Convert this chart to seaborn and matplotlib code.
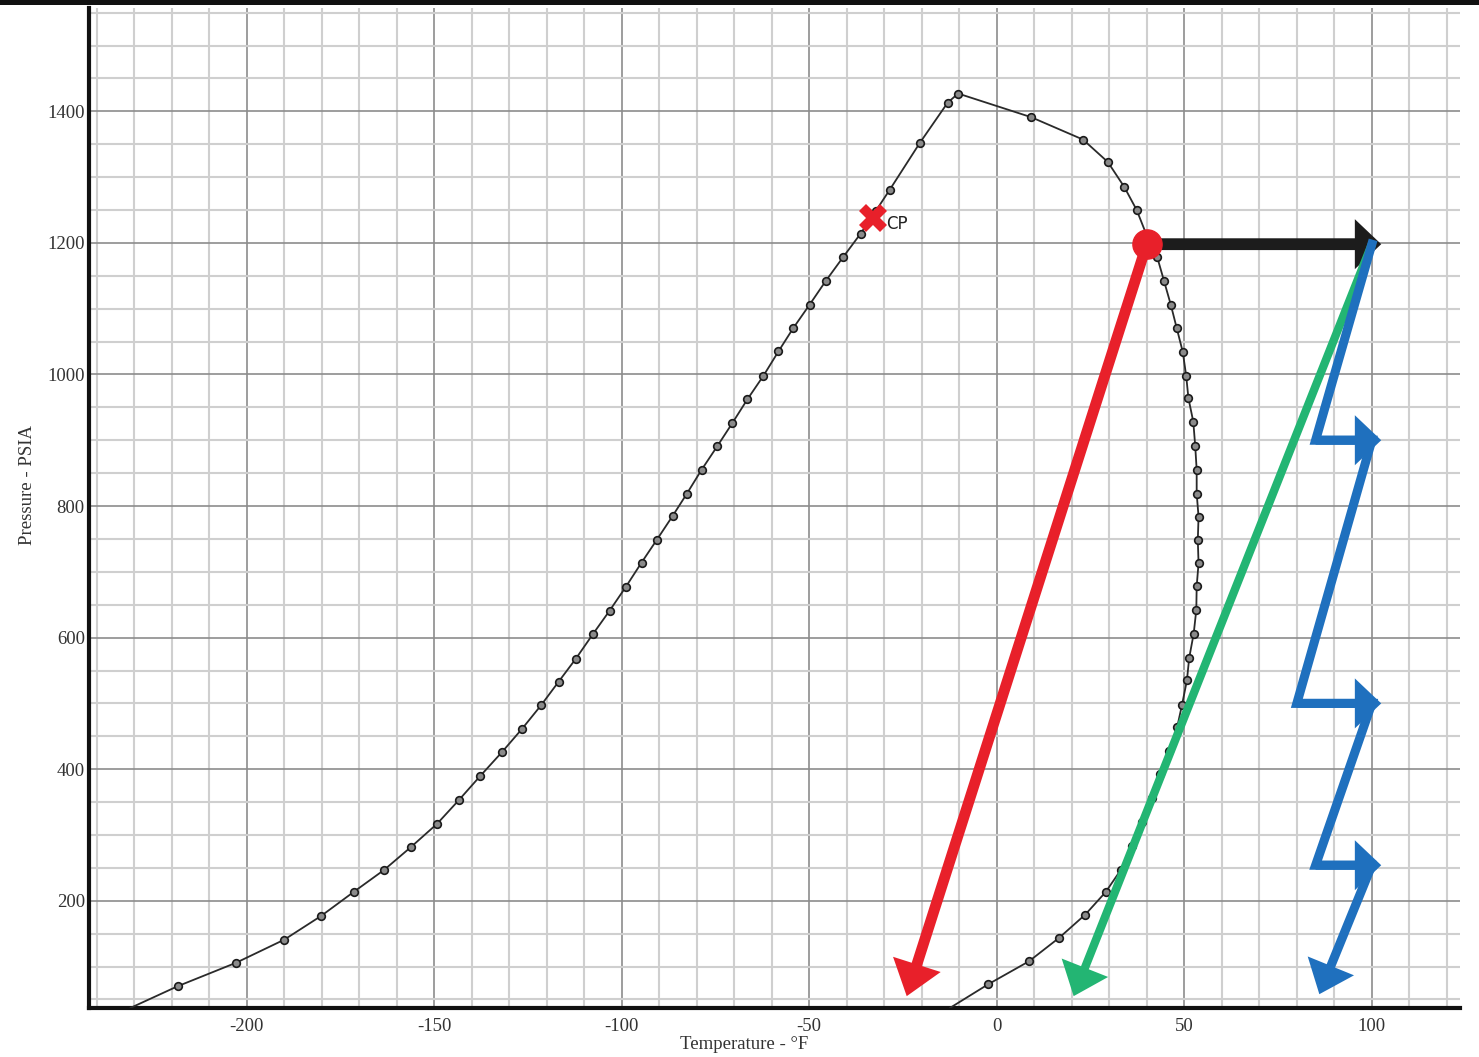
import pandas as pd
import matplotlib
matplotlib.use("Agg")
import matplotlib.pyplot as plt
import matplotlib.patches as mpatches
from matplotlib.ticker import MultipleLocator
import seaborn as sns

# Phase envelope (left branch up to the peak, then down the right side)
temp_f = [-231, -218.4, -202.7, -189.9, -180.1, -171.3, -163.3, -156.1, -149.2, -143.4,
          -137.8, -131.9, -126.6, -121.5, -116.8, -112.2, -107.7, -103.2, -98.9, -94.7,
          -90.7, -86.4, -82.7, -78.7, -74.5, -70.5, -66.5, -62.2, -58.2, -54.3,
          -49.9, -45.6, -41.0, -36.3, -32.3, -28.5, -20.5, -13.1, -10.3,
          9.2, 23.0, 29.6, 34.0, 37.3, 39.8, 42.8, 44.6, 46.4, 48.0,
          49.6, 50.5, 51.1, 52.4, 52.9, 53.3, 53.3, 53.8, 53.6, 53.8,
          53.3, 53.2, 52.5, 51.3, 50.7, 49.4, 48.1, 46.0, 43.6, 41.3,
          38.8, 36.0, 33.1, 29.0, 23.6, 16.7, 8.6, -2.3, -12.5]
pressure_psia = [37, 70, 106, 141, 177, 214, 247, 282, 317, 353,
                 389, 426, 461, 497, 533, 568, 605, 641, 677, 714,
                 748, 785, 818, 855, 891, 926, 962, 998, 1035, 1070,
                 1106, 1142, 1178, 1214, 1248, 1281, 1352, 1413, 1427,
                 1391, 1357, 1323, 1285, 1250, 1214, 1178, 1142, 1106, 1070,
                 1034, 998, 964, 928, 892, 855, 819, 784, 748, 713,
                 678, 642, 606, 569, 535, 498, 464, 428, 392, 356,
                 320, 284, 247, 213, 179, 144, 108, 73, 37]

# critical point
cp_temp, cp_pressure = -33, 1238

# start condition (red dot) and heated condition (tip of black arrow)
start_temp, start_pressure = 40, 1198
hot_temp = 102.5

# straight-line paths down to low pressure
red_end = (-24, 55)
green_end = (20.5, 55)

# blue step path: drops then reheats
blue_temps = [100, 85, 100, 80, 100, 85, 100]
blue_pressures = [1198, 900, 900, 500, 500, 254, 254]
blue_heat_from = [85, 80, 85]
blue_heat_at = [900, 500, 254]
blue_end = (86, 58)

RED = "#e8202a"
GREEN = "#23b573"
BLUE = "#1f70be"
BLACK = "#1c1c1c"

sns.set_style("white")
plt.rcParams["font.family"] = ["Liberation Serif", "DejaVu Serif"]
plt.rcParams["axes.unicode_minus"] = False

fig = plt.figure(figsize=(14.79, 10.57), dpi=100)
ax = fig.add_axes([89 / 1479, 49 / 1057, 1371 / 1479, 1000 / 1057])

# grid
ax.xaxis.set_major_locator(MultipleLocator(50))
ax.xaxis.set_minor_locator(MultipleLocator(10))
ax.yaxis.set_major_locator(MultipleLocator(200))
ax.yaxis.set_minor_locator(MultipleLocator(50))
ax.grid(which="minor", color="#cfcfcf", lw=1.5)
ax.grid(which="major", color="#8c8c8c", lw=1.2)
ax.set_axisbelow(True)

# phase envelope
df = pd.DataFrame({"Temperature": temp_f, "Pressure": pressure_psia})
sns.lineplot(data=df, x="Temperature", y="Pressure", sort=False, estimator=None,
             color="#2a2a2a", lw=1.3, marker="o", markersize=5.5,
             markerfacecolor="#8a8a8a", markeredgecolor="#1a1a1a", markeredgewidth=1.2,
             markevery=slice(1, -1), ax=ax, zorder=3)


def arrow(x0, y0, x1, y1, color, tail, hw, hl, z=5):
    ax.annotate("", xy=(x1, y1), xytext=(x0, y0), zorder=z,
                arrowprops=dict(arrowstyle=f"simple,head_length={hl},head_width={hw},tail_width={tail}",
                                mutation_scale=1, color=color, lw=0, shrinkA=0, shrinkB=0))


# black heating arrow
arrow(start_temp, start_pressure, hot_temp, start_pressure, BLACK, 8.5, 36, 19, z=5)
# red and green drops
arrow(start_temp, start_pressure, red_end[0], red_end[1], RED, 7.8, 36, 24, z=6)
arrow(100, start_pressure, green_end[0], green_end[1], GREEN, 6, 36, 22, z=6)

# blue step path
ax.plot(blue_temps, blue_pressures, color=BLUE, lw=6.5, solid_joinstyle="miter",
        solid_capstyle="projecting", zorder=6)
for t0, p in zip(blue_heat_from, blue_heat_at):
    arrow(t0, p, hot_temp, p, BLUE, 6.5, 36, 19, z=7)
arrow(blue_temps[-1], blue_pressures[-1], blue_end[0], blue_end[1], BLUE, 6.5, 36, 22, z=7)

# start point and critical point
ax.plot([start_temp], [start_pressure], "o", color=RED, ms=21, zorder=8)
ax.plot([cp_temp], [cp_pressure], "X", color=RED, ms=20, mew=0, zorder=8)
ax.text(cp_temp + 3.6, cp_pressure - 10, "CP", family="DejaVu Sans", fontsize=12,
        color="#222222", va="center", ha="left", zorder=8)

ax.set_xlim(-242, 123.5)
ax.set_ylim(37, 1557)
ax.set_xticks([-200, -150, -100, -50, 0, 50, 100])
ax.set_yticks([200, 400, 600, 800, 1000, 1200, 1400])

for s in ["top", "right"]:
    ax.spines[s].set_visible(False)
for s in ["left", "bottom"]:
    ax.spines[s].set_color("#111111")
    ax.spines[s].set_linewidth(3)

ax.tick_params(which="both", length=0, labelsize=13.5, labelcolor="#333333")
ax.tick_params(axis="x", pad=7)
ax.tick_params(axis="y", pad=3)

ax.set_xlabel("Temperature - °F", fontsize=13.5, color="#333333")
ax.set_ylabel("Pressure - PSIA", fontsize=13.5, color="#333333")
ax.xaxis.set_label_coords(0.478, -0.028)
ax.yaxis.set_label_coords(-0.039, 0.523)

# dark bar along the top edge of the image
fig.add_artist(mpatches.Rectangle((0, 1 - 5 / 1057), 1, 5 / 1057, transform=fig.transFigure,
                                  color="#111111", lw=0))

fig.savefig("out.png", dpi=100, facecolor="white")
